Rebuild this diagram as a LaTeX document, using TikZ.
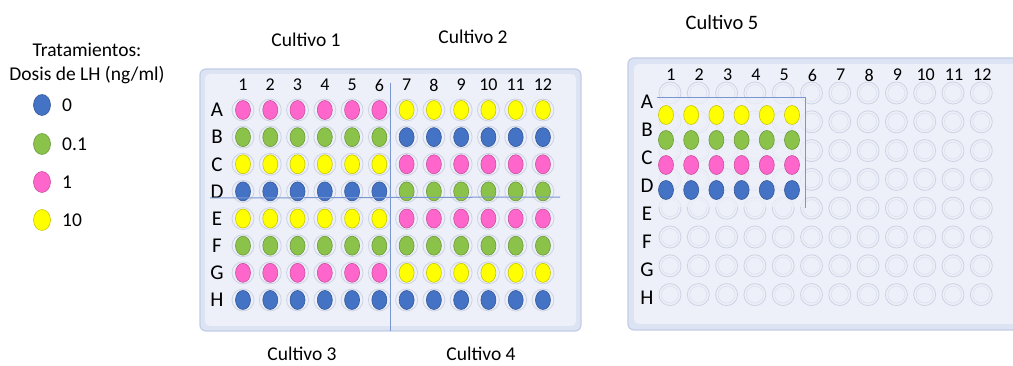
\documentclass[tikz,border=0pt]{standalone}
\usepackage{fontspec}
\setmainfont{Carlito}
\usetikzlibrary{shapes.geometric}
\definecolor{wpink}{HTML}{FF66CC}
\definecolor{wgreen}{HTML}{8BC34A}
\definecolor{wyel}{HTML}{FFFF00}
\definecolor{wblue}{HTML}{4472C4}
\definecolor{plateout}{HTML}{DCE3F3}
\definecolor{platein}{HTML}{EDF0F9}
\definecolor{plateedge}{HTML}{C3CDE8}
\definecolor{ring}{HTML}{CDD3E3}
\definecolor{divline}{HTML}{7A96D0}
\begin{document}
\begin{tikzpicture}[x=1pt,y=-1pt,
  well/.style={ellipse, inner sep=0pt, minimum width=15pt, minimum height=19pt, fill=#1, draw=#1!78!black, line width=0.6pt},
  lwell/.style={ellipse, inner sep=0pt, minimum width=17pt, minimum height=21pt, fill=#1, draw=#1!78!black, line width=0.6pt},
  ringw/.style={circle, inner sep=0pt, minimum size=22pt, draw=ring, line width=0.8pt},
  ringi/.style={circle, inner sep=0pt, minimum size=17pt, draw=ring!70, line width=0.6pt},
  lab/.style={font=\fontsize{19.5}{21}\selectfont, inner sep=0pt},
  rowlab/.style={font=\fontsize{21}{23}\selectfont, inner sep=0pt},
  collab/.style={font=\fontsize{18}{20}\selectfont, inner sep=0pt},
  title/.style={font=\fontsize{19.5}{21}\selectfont, inner sep=0pt},
  divider/.style={draw=divline, line width=1pt}
]
\useasboundingbox (0,0) rectangle (1013,366);
\fill[white] (0,0) rectangle (1013,366);

% ---------- Legend ----------
\node[title] (leg1) at (87,50) {Tratamientos:};
\node[title] (leg2) at (87,75) {Dosis de LH (ng/ml)};
\foreach \y/\c/\t [count=\i] in {105/wblue/0, 144/wgreen/0.1, 182/wpink/1, 220/wyel/10}{
  \node[lwell=\c] (legd\i) at (42,\y) {};
  \node[lab, anchor=west] (legt\i) at (62,\y) {\t};
}

% ---------- Plate 1 ----------
\draw[plateedge, line width=1.2pt, fill=plateout, rounded corners=6pt] (200,69) rectangle (581,331);
\fill[platein, rounded corners=5pt] (205,74) rectangle (576,326);
\foreach \c in {1,...,12}{
  \node[collab] (p1c\c) at ({243+(\c-1)*27.27},85) {\c};
}
\foreach \r/\L/\lc/\rc in {1/A/wpink/wyel, 2/B/wgreen/wblue, 3/C/wyel/wpink, 4/D/wblue/wgreen, 5/E/wyel/wpink, 6/F/wgreen/wgreen, 7/G/wpink/wyel, 8/H/wblue/wblue}{
  \node[rowlab] (p1r\L) at (217,{110+(\r-1)*27.14}) {\L};
  \foreach \c in {1,...,12}{
    \node[ringw] (p1ring\L\c) at ({243+(\c-1)*27.27},{110+(\r-1)*27.14}) {};
  }
  \foreach \c in {1,...,6}{
    \node[well=\lc] (p1w\L\c) at ({243+(\c-1)*27.27},{110+(\r-1)*27.14}) {};
  }
  \foreach \c in {7,...,12}{
    \node[well=\rc] (p1w\L\c) at ({243+(\c-1)*27.27},{110+(\r-1)*27.14}) {};
  }
}
\coordinate (v1a) at (390,83);
\coordinate (v1b) at (390,331);
\coordinate (h1a) at (210,198);
\coordinate (h1b) at (560,197);
\draw[divider] (v1a) -- (v1b);
\draw[divider] (h1a) -- (h1b);

\node[title] (cul1) at (306,40) {Cultivo 1};
\node[title] (cul2) at (473,37) {Cultivo 2};
\node[title] (cul3) at (302,354) {Cultivo 3};
\node[title] (cul4) at (481,354) {Cultivo 4};
\node[title, font=\fontsize{20.5}{22}\selectfont] (cul5) at (722,22) {Cultivo 5};

% ---------- Plate 2 ----------
\draw[plateedge, line width=1.2pt, fill=plateout, rounded corners=6pt] (628,58) rectangle (1030,330);
\fill[platein, rounded corners=5pt] (634,64) rectangle (1030,324);
\foreach \c in {1,...,12}{
  \node[collab] (p2c\c) at ({671+(\c-1)*28.3},75) {\c};
}
\foreach \r/\L in {1/A,2/B,3/C,4/D,5/E,6/F,7/G,8/H}{
  \node[rowlab] (p2r\L) at (647,{102+(\r-1)*27.9}) {\L};
  \foreach \c in {1,...,12}{
    \node[ringw] (p2ring\L\c) at ({670+(\c-1)*28.3},{93+(\r-1)*28.8}) {};
    \node[ringi] (p2ringi\L\c) at ({670+(\c-1)*28.3},{93+(\r-1)*28.8}) {};
  }
}
\fill[platein, fill opacity=0.7] (657,98) rectangle (805,207);
\foreach \r/\col in {1/wyel,2/wgreen,3/wpink,4/wblue}{
  \foreach \c in {1,...,6}{
    \node[well=\col] (p2w\r\c) at ({666+(\c-1)*25.2},{115+(\r-1)*25}) {};
  }
}
\coordinate (o1) at (657,98);
\coordinate (o2) at (805,98);
\coordinate (o3) at (805,208);
\draw[divider] (o1) -- (o2) -- (o3);
\end{tikzpicture}
\end{document}
